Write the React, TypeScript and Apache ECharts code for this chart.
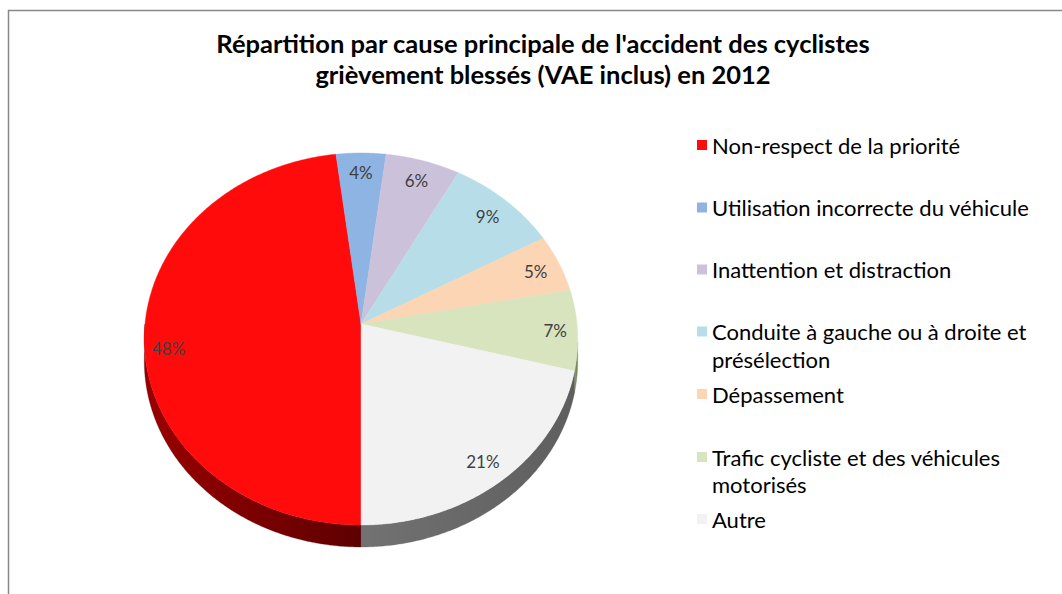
import React, { useEffect, useRef } from 'react';
import * as echarts from 'echarts';

const titleText = "Répartition par cause principale de l'accident des cyclistes\ngrièvement blessés (VAE inclus) en 2012";

const categories = [
  'Non-respect de la priorité',
  'Utilisation incorrecte du véhicule',
  'Inattention et distraction',
  'Conduite à gauche ou à droite et présélection',
  'Dépassement',
  'Trafic cycliste et des véhicules motorisés',
  'Autre',
];

const values = [48, 4, 6, 9, 5, 7, 21];

const legendLabels = [
  'Non-respect de la priorité',
  'Utilisation incorrecte du véhicule',
  'Inattention et distraction',
  'Conduite à gauche ou à droite et\nprésélection',
  'Dépassement',
  'Trafic cycliste et des véhicules\nmotorisés',
  'Autre',
];

const topColors = ['#FF0B0B', '#8EB4E3', '#CCC1DA', '#B7DEE8', '#FCD5B5', '#D7E4BD', '#F2F2F2'];
const sideColorsA = ['#9A0000', '#5A7BA6', '#857A95', '#6E9BA6', '#B3875F', '#8CA06A', '#727272'];
const sideColorsB = ['#5E0000', '#3F5A80', '#665C75', '#557A84', '#8A6645', '#6C7D50', '#5E5E5E'];

// geometry (layout only)
const CX = 361;
const CY = 324;
const RX = 216;
const RY = 184.8;
const PK = 0.0806;
const DEPTH = 22;
const START = Math.PI; // first slice starts at 6 o'clock, clockwise
const LABEL_R = 0.87;
const LABEL_NUDGE = [[-4, 14], [0, -1], [1, 0], [0, 1], [2, 1], [6, 1], [0, 3]];

const total = values.reduce((a, b) => a + b, 0);
const starts: number[] = [];
values.reduce((acc, v, i) => {
  starts[i] = acc;
  return acc + v;
}, 0);

function proj(theta: number, r: number): number[] {
  const u = Math.sin(theta) * r;
  const v = -Math.cos(theta) * r;
  const d = 1 - PK * v;
  return [CX + (RX * u) / d, CY + (RY * v) / d];
}

function arcPoints(a0: number, a1: number, r: number): number[][] {
  const n = Math.max(2, Math.ceil((a1 - a0) / (Math.PI / 360)));
  const pts: number[][] = [];
  for (let j = 0; j <= n; j++) {
    pts.push(proj(a0 + ((a1 - a0) * j) / n, r));
  }
  return pts;
}

function makeRenderItem(idx: number) {
  return (params: any, api: any) => {
    const s = api.value(0) / total;
    const span = (api.value(1) / total) * Math.PI * 2;
    let a0 = START + s * Math.PI * 2;
    while (a0 >= Math.PI * 2) a0 -= Math.PI * 2;
    const a1 = a0 + span;
    const children: any[] = [];
    const ranges = [
      [Math.PI / 2 + 0.1, (3 * Math.PI) / 2],
      [Math.PI / 2 + 0.1 + Math.PI * 2, (3 * Math.PI) / 2 + Math.PI * 2],
    ];
    ranges.forEach(([r0, r1]) => {
      const s0 = Math.max(a0, r0);
      const s1 = Math.min(a1, r1);
      if (s1 > s0) {
        const top = arcPoints(s0, s1, 1);
        const bottom = top.slice().reverse().map((p) => [p[0], p[1] + DEPTH]);
        children.push({
          type: 'polygon',
          z2: 1,
          shape: { points: top.concat(bottom) },
          style: {
            fill: {
              type: 'linear',
              x: 0,
              y: 0,
              x2: 1,
              y2: 0,
              colorStops: [
                { offset: 0, color: sideColorsA[idx] },
                { offset: 1, color: sideColorsB[idx] },
              ],
            },
            stroke: sideColorsB[idx],
            lineWidth: 0.3,
          },
        });
      }
    });
    const face = [[CX, CY]].concat(arcPoints(a0, a1, 1));
    children.push({
      type: 'polygon',
      z2: 10,
      shape: { points: face },
      style: { fill: topColors[idx], stroke: topColors[idx], lineWidth: 0.4 },
    });
    const mid = (a0 + a1) / 2;
    const lp = proj(mid, LABEL_R);
    children.push({
      type: 'text',
      z2: 20,
      x: lp[0] + LABEL_NUDGE[idx][0],
      y: lp[1] + LABEL_NUDGE[idx][1],
      style: {
        text: Math.round((api.value(1) / total) * 100) + '%',
        fill: '#404040',
        font: '17px Lato',
        align: 'center',
        verticalAlign: 'middle',
      },
    });
    return { type: 'group', children };
  };
}

const legendIconY = [145, 207.5, 269.5, 331.5, 394, 457, 519];

export default function App() {
  const ref = useRef<HTMLDivElement>(null);
  useEffect(() => {
    if (!ref.current) return;
    const chart = echarts.init(ref.current, undefined, { renderer: 'svg' });
    const LH = 27.5;
    const option: any = {
      animation: false,
      backgroundColor: '#FFFFFF',
      title: {
        text: titleText,
        left: 538,
        top: 22,
        textAlign: 'center',
        textStyle: {
          fontFamily: 'Lato',
          fontWeight: 'bold',
          fontSize: 25.5,
          lineHeight: 31,
          color: '#000000',
        },
      },
      graphic: [
        {
          type: 'polyline',
          shape: { points: [[8.5, 600], [8.5, 10.5], [1070, 10.5]] },
          style: { stroke: '#888888', lineWidth: 1.5, fill: 'none' },
        },
      ],
      legend: categories.map((name, i) => {
        const twoLine = legendLabels[i].indexOf('\n') >= 0;
        return {
          data: [name],
          orient: 'vertical',
          left: 697,
          top: legendIconY[i] - (twoLine ? LH * 1.5 : LH / 2),
          padding: 0,
          itemWidth: 10,
          itemHeight: 10,
          itemGap: 0,
          icon: 'rect',
          selectedMode: false,
          formatter: () => (twoLine ? '\n' : '') + legendLabels[i],
          textStyle: {
            fontFamily: 'Lato',
            fontSize: 22,
            color: '#000000',
            lineHeight: LH,
          },
        };
      }),
      series: categories.map((name, i) => ({
        type: 'custom',
        name,
        coordinateSystem: 'none',
        itemStyle: { color: topColors[i] },
        data: [[starts[i], values[i]]],
        renderItem: makeRenderItem(i),
      })),
    };
    chart.setOption(option);
    return () => chart.dispose();
  }, []);
  return (
    <div
      ref={ref}
      style={{ position: 'absolute', left: 0, top: 0, width: 1062, height: 594 }}
    />
  );
}
